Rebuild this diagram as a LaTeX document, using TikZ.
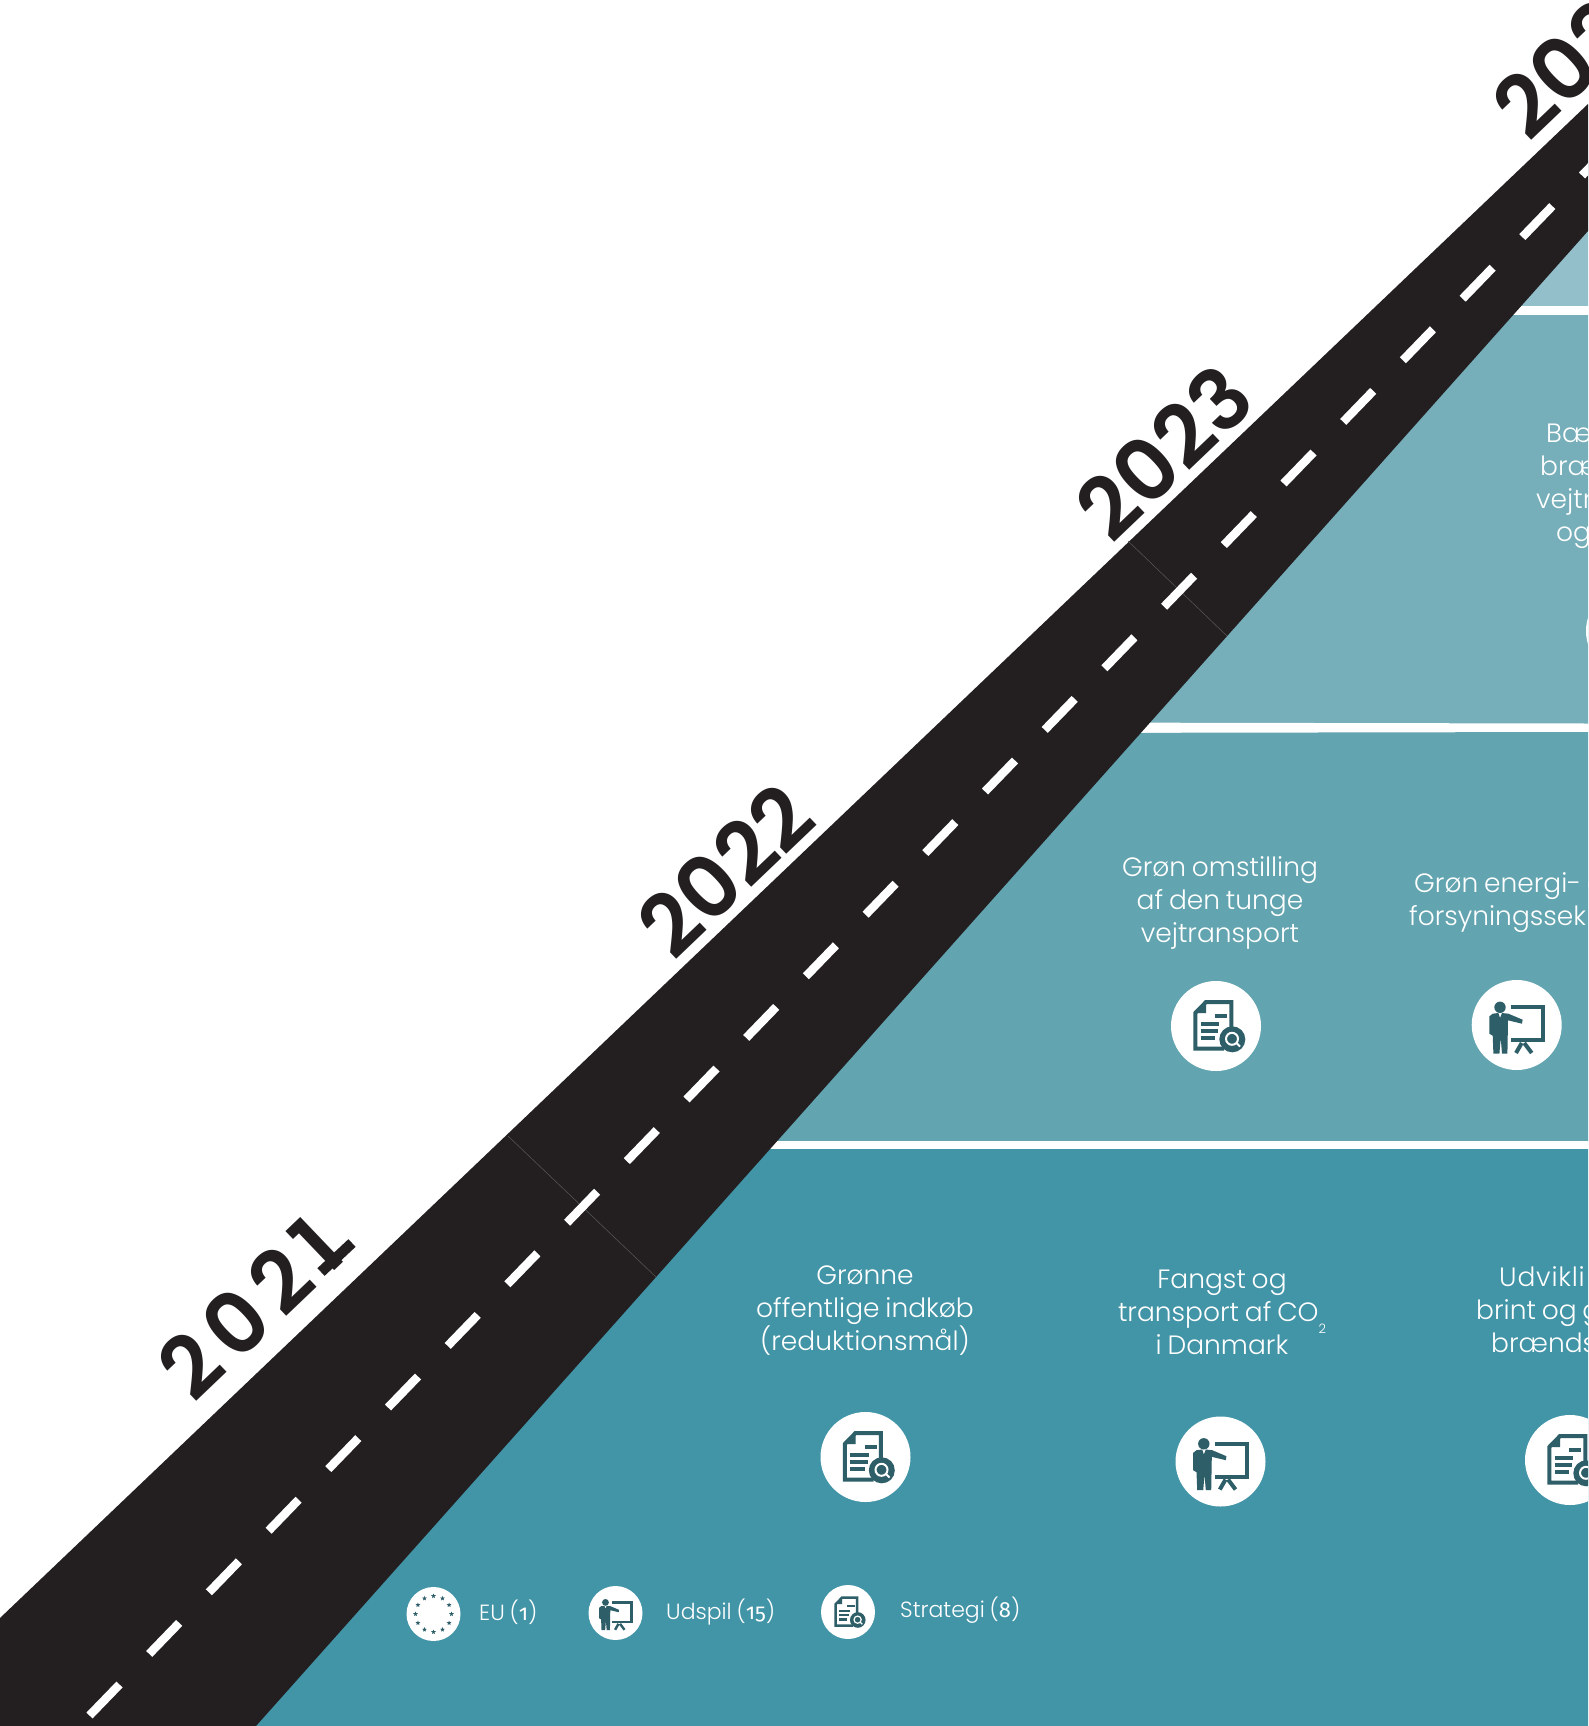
\documentclass[tikz,border=0pt]{standalone}
\usepackage{fontspec}
\usetikzlibrary{shapes.geometric,calc}
\setmainfont[WordSpace=0.8]{Poppins Light}
\newfontfamily\yearfont{Poppins SemiBold}
\newfontfamily\oldnum[Numbers=OldStyle]{Fira Sans}
\definecolor{roadblack}{HTML}{231F20}
\definecolor{bandA}{HTML}{4294A7}
\definecolor{bandB}{HTML}{62A4B0}
\definecolor{bandC}{HTML}{76AEBA}
\definecolor{bandD}{HTML}{93BFCA}
\definecolor{icondark}{HTML}{2E5F69}
\newcommand{\iconlw}{1}
\tikzset{
  x=1pt,y=-1pt,
  roaddash/.style={line width=8.5pt,white},
  seam/.style={line width=0.5pt,color=black!65},
  yearlabel/.style={font=\yearfont\fontsize{85}{85}\selectfont,text=roadblack,rotate=43.7,inner sep=0},
  bandtext/.style={font=\fontsize{26.5}{33}\selectfont,text=white,align=center,inner sep=0},
  bandline/.style={font=\fontsize{26.5}{33}\selectfont,text=white,anchor=base west,inner sep=0},
  legendtext/.style={font=\fontsize{22}{25}\selectfont,text=white,anchor=west,inner sep=0},
  disc/.style={circle,fill=white,inner sep=0,minimum size=90pt},
  smalldisc/.style={circle,fill=white,inner sep=0,minimum size=54pt},
  starmark/.style={star,star points=5,star point ratio=2.3,fill=icondark,inner sep=0,minimum size=5pt},
  smallicon/.code={\renewcommand{\iconlw}{0.6}\tikzset{scale=0.6}},
  docicon/.pic={
    \draw[icondark,line width=4pt*\iconlw,line join=miter] (15.3,4)--(15.3,-24)--(-10,-24)--(-20.7,-13)--(-20.7,22.7)--(8,22.7);
    \fill[icondark] (-20.7,-13)--(-10,-24)--(-10,-13)--cycle;
    \draw[icondark,line width=4pt*\iconlw] (-1,-10)--(11.3,-10) (-15.3,-2)--(3.3,-2) (-15.3,5)--(2.3,5) (-15.3,12.3)--(-1,12.3);
    \fill[icondark] (16.3,13.3) circle[radius=13];
    \draw[white,line width=2pt*\iconlw] (16,12.8) circle[radius=6];
    \draw[white,line width=2pt*\iconlw] (20.5,17)--(24,20.5);
  },
  presentericon/.pic={
    \fill[icondark] (-16.7,-17.7) circle[radius=5.7];
    \fill[icondark] (-24,-11.3)--(-18.3,-12)--(-16.7,-7)--(-14.7,-12)--(-8.3,-11.3)--(5.9,-5.3)--(5.3,-1.3)--(-8.7,-4.7)--(-9.3,28.7)--(-14.7,28.7)--(-16,13)--(-17.3,28.7)--(-23.3,28.7)--(-24,10.7)--(-27.3,8.7)--(-27.3,-8.7)--cycle;
    \draw[icondark,line width=4pt*\iconlw] (-6,-17.7)--(26.7,-17.7)--(26.7,15.3)--(-6,15.3);
    \draw[icondark,line width=4pt*\iconlw] (5,18)--(-0.7,28) (7.5,18)--(15,28);
  }
}
\begin{document}
\begin{tikzpicture}
\useasboundingbox (0,0) rectangle (1588,1726);
\clip (0,0) rectangle (1588,1726);
\fill[white] (0,0) rectangle (1588,1726);
% bands (their left edges lie under the road)
\fill[bandD] (1450,306)--(1588,160)--(1588,306)--cycle;
\fill[white] (1450,306)--(1588,306)--(1588,315)--(1440,315)--cycle;
\fill[bandC] (1440,315)--(1588,315)--(1588,724)--(1050,724)--cycle;
\fill[white] (1050,722.5)--(1588,723.5)--(1588,732)--(1040,733)--cycle;
\fill[bandB] (1040,733)--(1588,732)--(1588,1141)--(650,1141)--cycle;
\fill[white] (650,1141)--(1588,1141)--(1588,1149)--(600,1149)--cycle;
\fill[bandA] (600,1149)--(1588,1149)--(1588,1726)--(200,1726)--cycle;
% road
\fill[roadblack] (0,1618)--(1588,104)--(1588,231)--(256,1726)--(0,1726)--cycle;
\coordinate (s1a) at (508,1136); \coordinate (s1b) at (656,1277);
\coordinate (s2a) at (1128,541); \coordinate (s2b) at (1227,636);
\draw[seam] (s1a)--(s1b);
\draw[seam] (s2a)--(s2b);
\foreach \i in {0,...,25}{
  \pgfmathsetmacro{\cx}{104.5+59.7*\i}
  \pgfmathsetmacro{\cy}{1700-61.6*\i}
  \draw[roaddash] (\cx-15,\cy+15.5)--(\cx+15,\cy-15.5);
}
% years
\node[yearlabel] (y21) at (250,1308) {\addfontfeature{LetterSpace=12}2021};
\coordinate (f1) at (321,1272); \coordinate (f2) at (352,1243);
\draw[line width=10.5pt,roadblack] (f1)--(f2);
\node[yearlabel] (y22) at (725,870) {2022};
\node[yearlabel] (y23) at (1164,452) {2023};
\node[yearlabel,anchor=base west] (y24) at (1529,144) {202};
% band texts
\node[bandtext] (t1) at (865,1311) {Grønne\\offentlige indkøb\\(reduktionsmål)};
\node[bandtext] (t2) at (1222,1312) {Fangst og\\transport af CO\smash{\raisebox{-12pt}{\fontsize{13}{13}\selectfont 2}}\\i Danmark};
\node[bandline] (t3a) at (1499,1286) {\addfontfeature{LetterSpace=3}Udvikli};
\node[bandline] (t3b) at (1476,1319) {brint og g};
\node[bandline] (t3c) at (1491,1352) {brænds};
\node[bandtext] (t4) at (1220,903) {Grøn omstilling\\af den tunge\\vejtransport};
\node[bandline] (t5a) at (1414,892) {Grøn energi- o};
\node[bandline] (t5b) at (1409,925) {forsyningssek};
\node[bandline] (t6a) at (1546,442) {Bæ};
\node[bandline] (t6b) at (1540,475) {bræ};
\node[bandline] (t6c) at (1536,508) {vejtr};
\node[bandline] (t6d) at (1556,541) {og};
% discs
\node[disc] (d1) at (865.5,1457) {}; \pic at (d1) {docicon};
\node[disc] (d2) at (1220.5,1461.5) {}; \pic at (d2) {presentericon};
\node[disc] (d3) at (1570,1460) {}; \pic at (d3) {docicon};
\node[disc] (d4) at (1216,1026) {}; \pic at (d4) {docicon};
\node[disc] (d5) at (1516.7,1025) {}; \pic at (d5) {presentericon};
\node[disc] (d6) at (1631,631) {};
% legend
\node[smalldisc] (l1) at (433.5,1614) {};
\foreach \a in {0,30,...,330}{\node[starmark] at ($(l1)+(\a:18)$) {};}
\node[smalldisc] (l2) at (615.5,1613) {}; \pic[smallicon] at (l2) {presentericon};
\node[smalldisc] (l3) at (848,1612) {}; \pic[smallicon] at (l3) {docicon};
\node[legendtext] (k1) at (479,1612) {EU ({\oldnum 1})};
\node[legendtext] (k2) at (666,1612) {Udspil ({\oldnum 15})};
\node[legendtext] (k3) at (900,1610) {Strategi ({\oldnum 8})};
\end{tikzpicture}
\end{document}
